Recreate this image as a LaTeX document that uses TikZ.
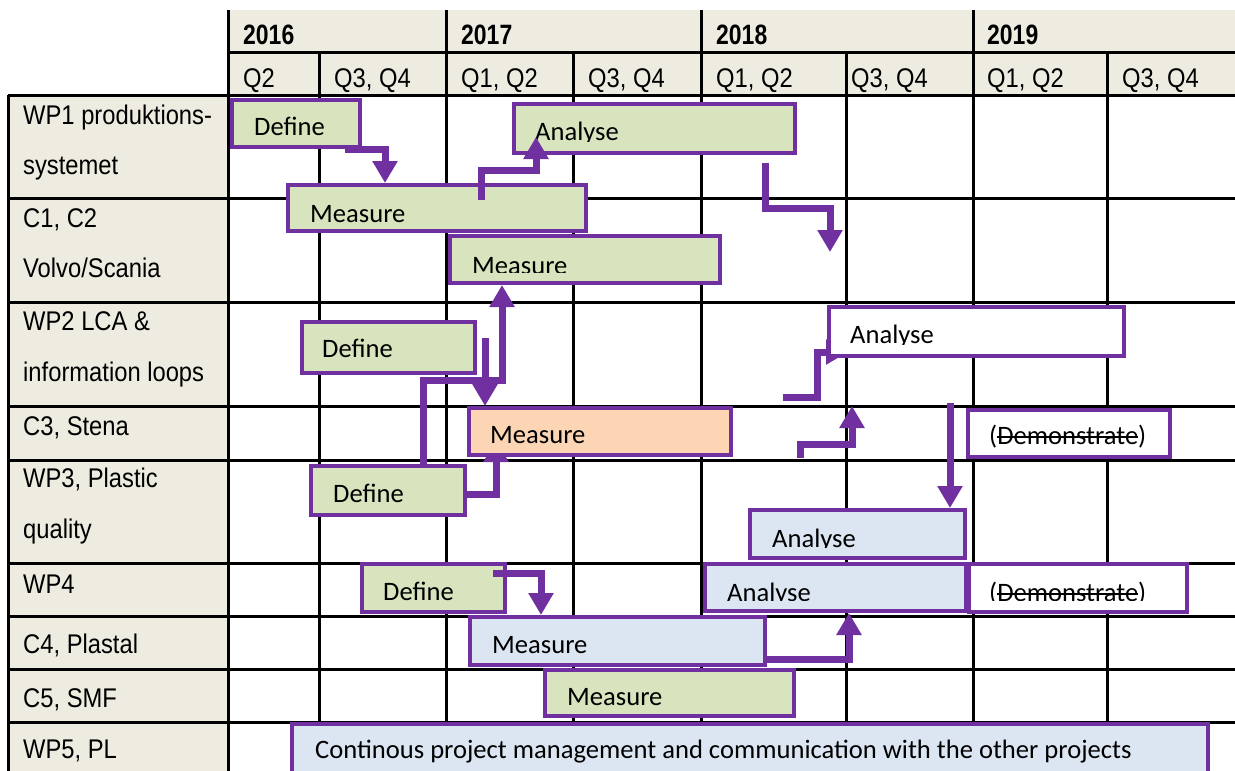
\documentclass[tikz,border=0pt]{standalone}
\usepackage{fontspec}
\setmainfont{Carlito}
\newfontfamily\labfont[FakeStretch=0.88]{Liberation Sans}
\newfontfamily\yearfont[FakeStretch=0.82]{Liberation Sans}
\newsavebox\strkbox
\newcommand\strk[1]{\sbox\strkbox{#1}\rlap{\rule[6.5pt]{\wd\strkbox}{1.5pt}}\usebox\strkbox}
\usetikzlibrary{arrows.meta,fit}
\definecolor{pur}{HTML}{7030A0}
\definecolor{beige}{HTML}{EEECE1}
\definecolor{gfill}{HTML}{D7E4BD}
\definecolor{bfill}{HTML}{DCE6F2}
\definecolor{ofill}{HTML}{FCD5B5}
\begin{document}
\begin{tikzpicture}[x=1pt,y=-1pt,
  gridline/.style={line width=3pt, draw=black},
  bx/.style={draw=pur, line width=4pt, inner sep=0pt},
  conn/.style={draw=pur, line width=7pt, -{Triangle[width=24pt,length=22pt]}},
  lab/.style={anchor=base west, inner sep=0pt, font=\labfont\fontsize{27pt}{32pt}\selectfont},
  yr/.style={anchor=base west, inner sep=0pt, font=\yearfont\bfseries\fontsize{28pt}{32pt}\selectfont},
  btxt/.style={anchor=base west, inner sep=0pt, font=\fontsize{26.6pt}{31pt}\selectfont}]
\clip (0,0) rectangle (1235,771);
\fill[white] (0,0) rectangle (1235,771);
% header and label column
\fill[beige] (228,10) rectangle (1235,95);
\fill[beige] (8,95) rectangle (228,771);
% grid
\foreach \x in {228,446,701,973} \draw[gridline] (\x,10) -- (\x,771);
\foreach \x in {319,573,846,1107} \draw[gridline] (\x,52) -- (\x,771);
\draw[gridline] (228,52) -- (1235,52);
\foreach \y in {95,198,302,406,460,563,616,669,722} \draw[gridline] (8,\y) -- (1235,\y);
\draw[gridline] (8,95) -- (8,771);
% header texts
\node[yr] (y16) at (243,45) {2016};
\node[yr] (y17) at (461,45) {2017};
\node[yr] (y18) at (716,45) {2018};
\node[yr] (y19) at (987,45) {2019};
\node[lab] (q1) at (243,87) {Q2};
\node[lab] (q2) at (334,87) {Q3, Q4};
\node[lab] (q3) at (461,87) {Q1, Q2};
\node[lab] (q4) at (588,87) {Q3, Q4};
\node[lab] (q5) at (716,87) {Q1, Q2};
\node[lab] (q6) at (851,87) {Q3, Q4};
\node[lab] (q7) at (987,87) {Q1, Q2};
\node[lab] (q8) at (1122,87) {Q3, Q4};
% row labels
\node[lab] (l1a) at (23,124) {WP1 produktions-};
\node[lab] (l1b) at (23,174) {systemet};
\node[lab] (l2a) at (23,227) {C1, C2};
\node[lab] (l2b) at (23,277) {Volvo/Scania};
\node[lab] (l3a) at (23,330) {WP2 LCA \&};
\node[lab] (l3b) at (23,381) {information loops};
\node[lab] (l4) at (23,435) {C3, Stena};
\node[lab] (l5a) at (23,487) {WP3, Plastic};
\node[lab] (l5b) at (23,538) {quality};
\node[lab] (l6) at (23,593) {WP4};
\node[lab] (l7) at (23,653) {C4, Plastal};
\node[lab] (l8) at (23,707) {C5, SMF};
\node[lab] (l9) at (23,758) {WP5, PL};
% boxes (first layer)
\node[bx, fill=gfill, fit={(232,100) (360,147)}] (d1) {};
\node[bx, fill=gfill, fit={(514,104) (795,153)}] (a1) {};
\node[bx, fill=gfill, fit={(288,185) (586,231)}] (m1) {};
\node[bx, fill=gfill, fit={(450,236) (720,283)}] (m2) {};
\node[bx, fill=gfill, fit={(302,322) (475,373)}] (d2) {};
\node[bx, fill=gfill, fit={(311,466) (465,515)}] (d3) {};
% hidden connectors (behind boxes)
\coordinate (f1) at (496,440);
\draw[conn] (d3.east |- 0,494) -| (f1);
\coordinate (g0) at (783,397);
\coordinate (g1) at (848,352);
\draw[conn] (g0) -| (817,352) -- (g1);
% boxes (second layer)
\node[bx, fill=white, fit={(829,307) (1124,356)}] (a2) {};
\node[bx, fill=ofill, fit={(469,408) (731,455)}] (m3) {};
\node[bx, fill=white, fit={(968,410) (1170,457)}] (dm1) {};
\node[bx, fill=bfill, fit={(750,510) (965,558)}] (a3) {};
\node[bx, fill=gfill, fit={(362,564) (505,612)}] (d4) {};
\node[bx, fill=bfill, fit={(705,564) (966,611)}] (a4) {};
\node[bx, fill=white, fit={(969,564) (1187,612)}] (dm2) {};
\node[bx, fill=bfill, fit={(470,617) (765,665)}] (m4) {};
\node[bx, fill=gfill, fit={(545,670) (794,716)}] (m5) {};
\node[bx, fill=bfill, fit={(292,724) (1208,800)}] (pm) {};
% box texts
\node[btxt] (td1) at (254,135) {Define};
\begin{scope}\clip (514,104) rectangle (795,141);
\node[btxt] (ta1) at (535,140) {Analyse};\end{scope}
\node[btxt] (tm1) at (310,222) {Measure};
\begin{scope}\clip (450,236) rectangle (720,272);
\node[btxt] (tm2) at (472,274) {Measure};\end{scope}
\node[btxt] (td2) at (322,357) {Define};
\begin{scope}\clip (829,307) rectangle (1124,344);
\node[btxt] (ta2) at (850,343.5) {Analyse};\end{scope}
\node[btxt] (tm3) at (490,443) {Measure};
\node[btxt] (tdm1) at (989,444) {(\strk{Demonstrate})};
\node[btxt] (td3) at (333,502) {Define};
\begin{scope}\clip (750,510) rectangle (965,547);
\node[btxt] (ta3) at (772,547) {Analyse};\end{scope}
\node[btxt] (td4) at (383,600) {Define};
\begin{scope}\clip (705,564) rectangle (966,600.5);
\node[btxt] (ta4) at (727,601.5) {Analyse};\end{scope}
\begin{scope}\clip (969,564) rectangle (1187,600.5);
\node[btxt] (tdm2) at (989,601) {(\strk{Demonstrate})};\end{scope}
\node[btxt] (tm4) at (492,653) {Measure};
\node[btxt] (tm5) at (567,705) {Measure};
\node[btxt] (tpm) at (315,758) {Continous project management and communication with the other projects};
% connectors
\draw[conn] (d1.south -| 345,0) -| (m1.north -| 385,0);
\coordinate (b0) at (481,200);
\coordinate (b1) at (536,137);
\draw[conn] (b0) |- (536,170) -- (b1);
\coordinate (c0) at (765,163);
\coordinate (c1) at (830,252);
\draw[conn] (c0) |- (830,208) -- (c1);
\coordinate (e0) at (485,338);
\draw[conn] (e0) -- (m3.north -| 485,0);
\draw[conn] (d3.north -| 423,0) |- (502,380) -- (m2.south -| 502,0);
\coordinate (h0) at (800,458);
\coordinate (h1) at (852,406);
\draw[conn] (h0) |- (852,444) -- (h1);
\coordinate (i0) at (950,403);
\draw[conn] (i0) -- (a3.north -| 950,0);
\coordinate (j0) at (493,573);
\draw[conn] (j0) -| (m4.north -| 541,0);
\draw[conn] (m4.east |- 0,659) -| (a4.south -| 849,0);
\end{tikzpicture}
\end{document}
